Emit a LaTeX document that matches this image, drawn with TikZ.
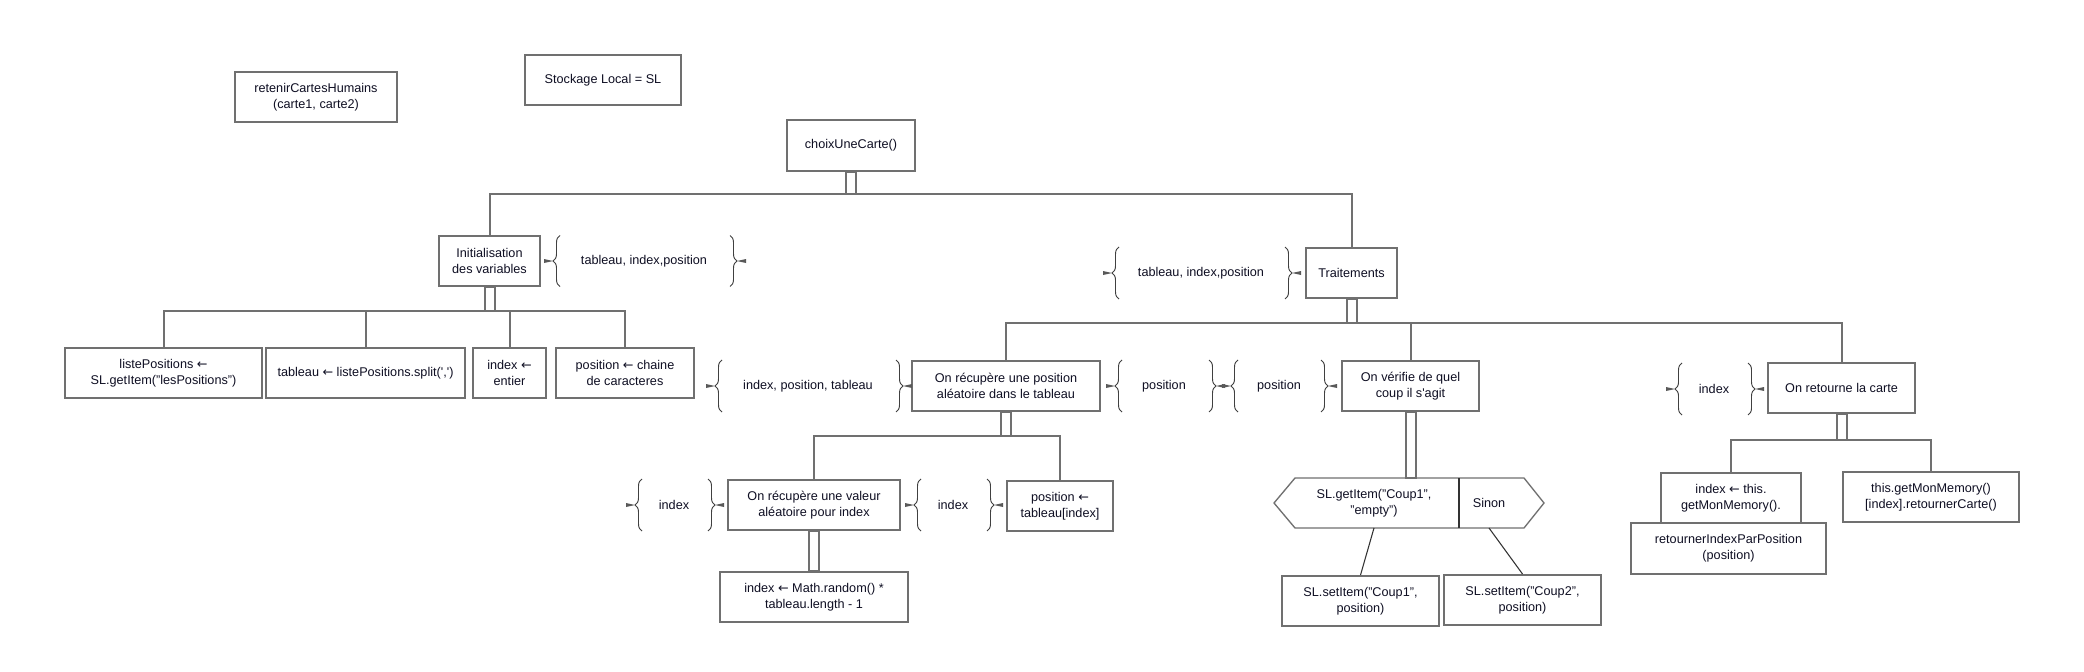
\documentclass[tikz,border=0pt]{standalone}
\usepackage{fontspec}
\setmainfont{Liberation Sans}
\newfontfamily\fleches{DejaVu Sans}
\usetikzlibrary{calc,decorations.pathreplacing}

\definecolor{gristrait}{RGB}{112,112,112}
\definecolor{encre}{RGB}{15,15,35}

\newcommand{\fl}{{\fleches ←}}
% accolades de flux de donnees : x gauche, x droite, y milieu, demi-hauteur
\newcommand{\accolades}[4]{%
	\draw [accolade] ( #1, {#3+#4} ) -- ( #1, {#3-#4} );
	\draw [accolade] ( #2, {#3-#4} ) -- ( #2, {#3+#4} );
	\fill [pointe] ( {#1-7}, #3 ) -- ( {#1-16}, {#3-2} ) -- ( {#1-16}, {#3+2} ) -- cycle;
	\fill [pointe] ( {#2+7}, #3 ) -- ( {#2+16}, {#3-2} ) -- ( {#2+16}, {#3+2} ) -- cycle;
}
% tige double entre un bloc et son bus
\newcommand{\tige}[2]{%
	\draw [tigedouble] ($ (#1) + (-5,0) $) rectangle ($ (#2) + (5,0) $);
	\draw [socle] ($ (#2) + (-5,0) $) -- ($ (#2) + (5,0) $);
}

\begin{document}
\begin{tikzpicture}[x=0.75pt, y=-0.75pt,
		bloc/.style={draw=gristrait, line width=1.5pt, text=encre, align=center, inner sep=0pt,
			minimum height=37.5pt, minimum width=#1*0.75pt, font=\fontsize{9.5}{12}\selectfont},
		bloc/.default=100,
		texte/.style={text=encre, align=center, inner sep=0pt, font=\fontsize{9.5}{12}\selectfont},
		lien/.style={draw=gristrait, line width=1.5pt},
		tigedouble/.style={draw=gristrait, line width=1.5pt},
		socle/.style={draw=black, line width=2pt},
		fin/.style={draw=black!80, line width=0.8pt},
		accolade/.style={draw=black!75, line width=0.7pt, decorate, decoration={brace, amplitude=5.25pt}},
		pointe/.style={fill=black!65}]
	\path [fill=white] ( 0, 0 ) rectangle ( 2084, 671 );

	% en-tete
	\node [bloc=162] (retenir) at ( 316, 97 ) {retenirCartesHumains\\(carte1, carte2)};
	\node [bloc=156] (stockage) at ( 603, 80 ) {Stockage Local = SL};
	\node [bloc=128, minimum height=51*0.75pt] (choix) at ( 851, 145 ) {choixUneCarte()};

	% niveau 1
	\node [bloc=101] (init) at ( 489.5, 261 ) {Initialisation\\des variables};
	\node [bloc=91] (trait) at ( 1351.5, 273 ) {Traitements};
	\coordinate (b0) at ( 851, 194 );
	\tige{choix.south}{b0}
	\draw [lien] (init.north) |- (b0) -| (trait.north);
	\node [texte] (d1) at ( 644, 261 ) {tableau, index,position};
	\accolades{560}{730}{261}{25.5}
	\node [texte] (d2) at ( 1201, 273 ) {tableau, index,position};
	\accolades{1119}{1285}{273}{26}

	% initialisation des variables
	\node [bloc=197] (liste) at ( 163.5, 373 ) {listePositions \fl\\SL.getItem("lesPositions")};
	\node [bloc=199] (tab) at ( 365.5, 373 ) {tableau \fl{} listePositions.split(\textquotesingle,\textquotesingle)};
	\node [bloc=73] (idx) at ( 509.5, 373 ) {index \fl\\entier};
	\node [bloc=138] (pos) at ( 625, 373 ) {position \fl{} chaine\\de caracteres};
	\coordinate (b1) at ( 489.5, 311 );
	\tige{init.south}{b1}
	\draw [lien] (liste.north) |- (b1) -| (pos.north);
	\draw [lien] (tab.north) -- (tab.north |- b1);
	\draw [lien] (idx.north) -- (idx.north |- b1);

	% traitements
	\node [bloc=188] (recup) at ( 1006, 386 ) {On récupère une position\\aléatoire dans le tableau};
	\node [bloc=137] (verif) at ( 1410.5, 386 ) {On vérifie de quel\\coup il s\textquotesingle agit};
	\node [bloc=147] (retourne) at ( 1841.5, 388 ) {On retourne la carte};
	\coordinate (b2) at ( 1351.5, 323 );
	\tige{trait.south}{b2}
	\draw [lien] (recup.north) |- (b2) -| (retourne.north);
	\draw [lien] (verif.north) -- (verif.north |- b2);
	\node [texte] (d3) at ( 808, 386 ) {index, position, tableau};
	\accolades{722}{896}{386}{26}
	\node [texte] (d4) at ( 1164, 386 ) {position};
	\accolades{1122}{1209}{386}{26}
	\node [texte] (d5) at ( 1279, 386 ) {position};
	\accolades{1238}{1321}{386}{26}
	\node [texte] (d6) at ( 1714, 389 ) {index};
	\accolades{1682}{1748}{389}{26}

	% position aleatoire
	\node [bloc=172] (valeur) at ( 814, 505 ) {On récupère une valeur\\aléatoire pour index};
	\node [bloc=106] (postab) at ( 1060, 506 ) {position \fl\\{}tableau[index]};
	\node [bloc=188] (random) at ( 814, 597 ) {index \fl{} Math.random() *\\tableau.length - 1};
	\coordinate (b3) at ( 1006, 436 );
	\tige{recup.south}{b3}
	\draw [lien] (valeur.north) |- (b3) -| (postab.north);
	\draw [tigedouble] ($ (valeur.south) + (-5,0) $) rectangle ($ (random.north) + (5,0) $);
	\node [texte] (d7) at ( 674, 505 ) {index};
	\accolades{642}{708}{505}{26}
	\node [texte] (d8) at ( 953, 505 ) {index};
	\accolades{921}{987}{505}{26}

	% quel coup
	\draw [draw=gristrait, line width=1pt] ( 1274, 503 ) -- ( 1295, 478 ) -- ( 1524, 478 ) -- ( 1544, 503 ) -- ( 1524, 528 ) -- ( 1295, 528 ) -- cycle;
	\draw [fin] ( 1459, 478 ) -- ( 1459, 528 );
	\coordinate (hhaut) at ( 1411, 478 );
	\draw [tigedouble] ($ (verif.south) + (-5,0) $) rectangle ($ (hhaut) + (5,0) $);
	\node [texte] (si) at ( 1374, 503 ) {SL.getItem("Coup1",\\"empty")};
	\node [texte] (sinon) at ( 1489, 503 ) {Sinon};
	\node [bloc=157] (coup1) at ( 1360.5, 601 ) {SL.setItem("Coup1",\\position)};
	\node [bloc=157] (coup2) at ( 1522.5, 600 ) {SL.setItem("Coup2",\\position)};
	\coordinate (sibas) at ( 1374, 528 );
	\coordinate (sinonbas) at ( 1489, 528 );
	\draw [fin] (sibas) -- (coup1.north);
	\draw [fin] (sinonbas) -- (coup2.north);

	% retourner la carte
	\node [bloc=140] (idxthis) at ( 1731, 498 ) {index \fl{} this.\\getMonMemory().};
	\node [bloc=195, minimum height=51*0.75pt] (retidx) at ( 1728.5, 548.5 ) {retournerIndexParPosition\\(position)};
	\node [bloc=176] (getmon) at ( 1931, 497 ) {this.getMonMemory()\\{}[index].retournerCarte()};
	\coordinate (b4) at ( 1841.5, 440 );
	\tige{retourne.south}{b4}
	\draw [lien] (idxthis.north) |- (b4) -| (getmon.north);
\end{tikzpicture}
\end{document}
